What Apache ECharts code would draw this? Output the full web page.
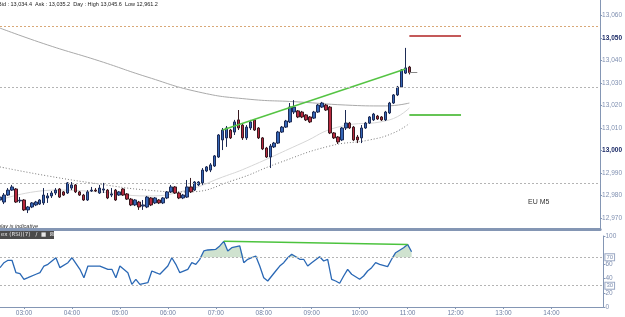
<!DOCTYPE html>
<html>
<head>
<meta charset="utf-8">
<script src="https://cdn.jsdelivr.net/npm/echarts@6/dist/echarts.min.js"></script>
<style>
  html, body { margin: 0; padding: 0; background: #fff; }
  #chart { width: 625px; height: 317px; }
</style>
</head>
<body>
<div id="chart"></div>
<script>
// 5 minute slots, 02:30 .. 15:05
var times = [];
for (var m = 150; m <= 905; m += 5) {
  var h = Math.floor(m / 60), mm = m % 60;
  times.push((h < 10 ? '0' : '') + h + ':' + (mm < 10 ? '0' : '') + mm);
}
var lastHourLabel = '14:00';

// [open, close, low, high], one per 5 min from 02:30
var candles = [
  [12978.0,12979.3,12974.4,12981.1],[12977.1,12980.2,12976.2,12981.1],[12980.2,12982.4,12979.8,12983.3],
  [12982.4,12983.8,12982.0,12984.7],[12982.9,12977.1,12976.7,12983.3],[12977.6,12977.9,12976.7,12979.3],
  [12978.0,12973.6,12973.1,12978.4],[12973.6,12974.9,12972.2,12975.3],[12974.9,12976.7,12974.4,12977.1],
  [12975.8,12977.1,12975.3,12977.6],[12976.2,12978.0,12975.8,12978.4],[12976.7,12980.2,12975.8,12983.3],
  [12978.9,12979.8,12976.7,12981.1],[12979.8,12981.1,12978.9,12982.0],[12981.1,12982.4,12980.2,12983.3],
  [12982.9,12979.3,12978.9,12983.3],[12981.6,12980.2,12979.8,12982.0],[12981.1,12985.6,12980.7,12986.0],
  [12983.3,12984.7,12982.4,12986.0],[12984.7,12981.6,12981.1,12985.1],[12981.6,12980.2,12979.8,12982.0],
  [12980.2,12978.0,12977.6,12980.7],[12978.0,12981.6,12977.6,12982.4],[12982.0,12982.4,12981.6,12983.8],
  [12982.4,12982.0,12981.6,12983.3],[12981.1,12983.3,12980.7,12984.7],[12982.4,12982.9,12981.1,12985.6],
  [12982.4,12978.9,12978.4,12982.9],[12980.2,12980.7,12979.3,12983.3],[12982.4,12978.0,12977.6,12982.9],
  [12980.2,12981.6,12979.8,12982.0],[12982.9,12980.2,12979.8,12983.3],[12980.7,12978.4,12978.0,12981.1],
  [12978.4,12975.8,12975.3,12978.9],[12975.8,12978.0,12975.3,12978.4],[12977.1,12974.9,12973.6,12977.6],
  [12975.3,12975.8,12973.6,12978.0],[12974.9,12979.3,12974.4,12979.8],[12978.9,12975.8,12975.3,12979.3],
  [12976.7,12978.9,12976.2,12979.3],[12978.0,12976.7,12976.2,12978.4],[12976.7,12978.9,12976.2,12979.3],
  [12978.9,12981.6,12978.4,12982.0],[12981.6,12983.8,12981.1,12984.7],[12983.8,12981.1,12980.7,12984.2],
  [12981.1,12978.9,12978.4,12981.6],[12978.9,12980.2,12978.4,12980.7],[12979.3,12983.8,12978.9,12986.9],
  [12983.8,12981.6,12981.1,12987.8],[12982.4,12986.0,12982.0,12986.4],[12984.7,12986.0,12984.2,12986.4],
  [12985.6,12991.3,12984.7,12992.2],[12990.9,12992.7,12990.4,12993.1],[12991.3,12993.6,12990.4,12994.4],
  [12993.1,12997.6,12992.7,12998.0],[12997.1,13006.9,12996.7,13007.3],[13004.7,13009.1,13000.2,13010.0],
  [13005.6,13010.0,13001.6,13010.9],[13009.1,13005.6,13005.1,13009.6],[13008.2,13012.7,13006.9,13013.6],
  [13013.6,13010.0,13009.1,13018.0],[13011.3,13005.6,13004.7,13012.2],[13005.6,13010.4,13004.7,13011.3],
  [13010.0,13012.7,13009.1,13013.6],[13013.6,13009.1,13008.7,13014.0],[13010.0,13005.6,13005.1,13010.4],
  [13005.6,13000.7,13000.2,13006.0],[13001.1,12997.1,12996.7,13001.6],[12997.1,13002.0,12992.2,13002.9],
  [13001.6,13003.3,13001.1,13003.8],[13003.3,13008.2,13002.9,13008.7],[13008.2,13010.4,13007.8,13010.9],
  [13010.4,13013.1,13010.0,13013.6],[13012.7,13019.3,13012.2,13021.1],[13017.1,13019.3,13016.2,13022.4],
  [13017.6,13014.9,13014.4,13018.0],[13017.1,13014.9,13014.4,13017.6],[13015.8,13013.6,13013.1,13016.2],
  [13014.9,13012.7,13012.2,13015.3],[13014.4,13017.1,13014.0,13017.6],[13017.1,13020.2,13016.7,13020.7],
  [13019.3,13021.1,13018.9,13021.6],[13020.2,13018.0,13017.6,13020.7],[13019.3,13007.8,13007.3,13019.8],
  [13007.8,13005.6,13005.1,13008.2],[13006.0,13003.8,13002.9,13006.4],[13004.7,13010.0,13004.2,13010.4],
  [13010.0,13012.2,13009.1,13018.0],[13012.2,13010.0,13009.6,13012.7],[13010.4,13004.7,13004.2,13010.9],
  [13006.0,13004.7,13003.3,13006.9],[13005.6,13010.0,13003.3,13011.3],[13010.0,13012.2,13009.6,13012.7],
  [13012.2,13014.9,13011.8,13015.3],[13013.6,13016.2,13013.1,13016.7],[13015.3,13014.0,13013.6,13015.8],
  [13014.9,13013.6,13013.1,13015.3],[13013.6,13017.1,13013.1,13017.6],[13016.7,13021.1,13016.2,13021.6],
  [13021.1,13024.7,13020.7,13025.1],[13024.7,13028.2,13024.2,13028.7],[13028.2,13035.8,13027.8,13036.2],
  [13034.4,13036.7,13034.0,13045.6],[13037.1,13034.6,13033.8,13037.6]
];

// moving averages read at a few slots: [slot index, price]
var maSlow = [[0,13054.4],[12,13046.9],[25,13039.8],[37,13032.7],[50,13026.0],[62,13022.9],[75,13021.6],[87,13020.2],[97,13019.8],[103,13021.1]];
var maDotted = [[0,12992.7],[12,12988.7],[25,12985.1],[37,12982.4],[47,12981.6],[59,12986.9],[70,12994.4],[83,13002.0],[93,13004.7],[99,13007.8],[103,13012.0]];
var maFast = [[0,12978.0],[14,12982.4],[25,12981.6],[37,12979.8],[47,12982.4],[56,12988.2],[62,12992.2],[76,13003.3],[85,13010.4],[98,13013.6],[103,13018.9]];

var pivotLevels = [13055.3, 13028.2, 12985.6];
var lastPrice = 13034.6;
var redLevel = 13050.9, greenLevel = 13015.8, levelFrom = 103, levelTo = 116;
var trendPrice = [[56,13009.1],[102,13036.2]];

// RSI read at slots: [slot index, value]
var rsiPoints = [[0,55.4],[1,62.4],[2,65.8],[3,65.8],[4,48.3],[5,46.9],[6,39.0],[7,41.3],[9,46.1],[10,48.3],
  [11,57.7],[12,60.1],[14,69.4],[15,55.4],[17,62.4],[18,69.4],[20,53.1],[21,41.3],[22,57.7],[24,57.7],
  [25,57.7],[27,53.1],[28,53.1],[29,41.3],[30,57.7],[32,48.3],[33,31.9],[34,38.9],[35,31.9],[37,34.2],
  [38,50.7],[39,48.3],[40,46.1],[42,57.7],[43,69.4],[44,60.1],[45,48.3],[47,53.1],[48,62.4],[49,60.1],
  [50,67.2],[51,78.9],[52,80.3],[54,81.3],[55,86.0],[56,92.5],[57,78.9],[58,83.5],[60,86.0],[61,62.4],
  [62,67.2],[64,71.8],[65,57.7],[66,41.3],[67,36.6],[69,50.7],[70,57.7],[71,62.4],[72,69.4],[73,74.2],
  [75,67.2],[76,67.2],[77,57.7],[78,62.4],[80,70.8],[81,64.8],[82,67.2],[83,39.0],[84,36.6],[85,33.4],
  [86,43.7],[87,53.1],[88,46.1],[90,39.0],[91,43.7],[92,50.7],[93,55.4],[94,62.4],[95,60.1],[97,56.8],
  [98,67.2],[99,76.5],[101,83.5],[102,88.2],[103,77.9]];
var rsiLast = 77.915;
var trendRsi = [[56,92.5],[102,88.2]];

var priceTicks = [12970,12980,12990,13000,13010,13020,13030,13040,13050,13060];
var rsiTicks = [0,20,40,60,100];

var axisColor = '#8496b4';
var font = 'Liberation Sans';

function named(pts) { return pts.map(function (p) { return [times[p[0]], p[1]]; }); }
function fmt(v, d) { return v.toLocaleString('en-US', {minimumFractionDigits: d || 0, maximumFractionDigits: d || 0}); }
function boxLabel(text) {
  return {show: true, position: 'end', distance: 2, formatter: text, fontSize: 6, fontFamily: font,
          color: '#7f8fb0', backgroundColor: '#fff', borderColor: '#9aa8c4', borderWidth: 1, padding: [0, 1]};
}
function hourOnly(i, name) { return name.slice(3) === '00' && name <= lastHourLabel; }

var chart = echarts.init(document.getElementById('chart'));
chart.setOption({
  animation: false,
  backgroundColor: '#fff',
  grid: [
    {left: 0, width: 603.4, top: 0, height: 229},
    {left: 0, width: 603.4, top: 236, height: 71}
  ],
  xAxis: [
    {type: 'category', gridIndex: 0, data: times, boundaryGap: false,
     axisLabel: {show: false}, axisTick: {show: false},
     axisLine: {lineStyle: {color: axisColor, width: 3}}},
    {type: 'category', gridIndex: 1, data: times, boundaryGap: false,
     axisLine: {lineStyle: {color: axisColor}},
     axisTick: {interval: hourOnly, length: 2, lineStyle: {color: axisColor}},
     axisLabel: {interval: hourOnly, margin: 3, fontSize: 6.5, fontFamily: font, color: '#6f7fa3'}}
  ],
  yAxis: [
    {type: 'value', gridIndex: 0, position: 'right', min: 12965.11, max: 13066.89,
     splitLine: {show: false},
     axisLine: {show: true, lineStyle: {color: axisColor}},
     axisTick: {show: true, length: 2, customValues: priceTicks, lineStyle: {color: axisColor}},
     axisLabel: {customValues: priceTicks, margin: 2, fontFamily: font,
       formatter: function (v) { return (v % 50 === 0 ? '{b|' : '{n|') + fmt(v) + '}'; },
       rich: {n: {fontSize: 6.5, color: '#7f8fb0', fontFamily: font},
              b: {fontSize: 6.5, color: '#1b2a66', fontWeight: 'bold', fontFamily: font}}}},
    {type: 'value', gridIndex: 1, position: 'right', min: 0, max: 100,
     splitLine: {show: false},
     axisLine: {show: true, lineStyle: {color: axisColor}},
     axisTick: {show: true, length: 2, customValues: rsiTicks, lineStyle: {color: axisColor}},
     axisLabel: {customValues: rsiTicks, margin: 2, fontSize: 6.5, fontFamily: font, color: '#7f8fb0'}}
  ],
  series: [
    {type: 'line', xAxisIndex: 0, yAxisIndex: 0, data: named(maFast), symbol: 'none', smooth: true,
     lineStyle: {color: '#d6d6d6', width: 1}, z: 1,
     markLine: {silent: true, symbol: ['none', 'none'], lineStyle: {opacity: 0},
       data: [{yAxis: maFast[maFast.length - 1][1], label: boxLabel(fmt(maFast[maFast.length - 1][1]))}]}},
    {type: 'line', xAxisIndex: 0, yAxisIndex: 0, data: named(maDotted), symbol: 'none', smooth: true,
     lineStyle: {color: '#7a7a7a', width: 1, type: [1, 2]}, z: 1,
     markLine: {silent: true, symbol: ['none', 'none'], lineStyle: {opacity: 0},
       data: [{yAxis: maDotted[maDotted.length - 1][1], label: boxLabel(fmt(maDotted[maDotted.length - 1][1]))}]}},
    {type: 'line', xAxisIndex: 0, yAxisIndex: 0, data: named(maSlow), symbol: 'none', smooth: true,
     lineStyle: {color: '#a9a9a9', width: 1}, z: 1,
     markLine: {silent: true, symbol: ['none', 'none'], lineStyle: {opacity: 0},
       data: [{yAxis: maSlow[maSlow.length - 1][1], label: boxLabel(fmt(maSlow[maSlow.length - 1][1]))}]}},
    {type: 'candlestick', xAxisIndex: 0, yAxisIndex: 0, data: candles, barWidth: 3, z: 3,
     itemStyle: {color: '#3465b6', color0: '#b8283e', borderColor: '#1d2b55', borderColor0: '#3a1a20', borderWidth: 1},
     markLine: {silent: true, symbol: ['none', 'none'], label: {show: false},
       data: [
         {yAxis: pivotLevels[0], lineStyle: {color: '#d9a877', type: [2, 2], width: 1}},
         {yAxis: pivotLevels[1], lineStyle: {color: '#b4b4b4', type: [2, 2], width: 1}},
         {yAxis: pivotLevels[2], lineStyle: {color: '#b4b4b4', type: [2, 2], width: 1}},
         {yAxis: lastPrice, lineStyle: {opacity: 0},
          label: {show: true, position: 'end', distance: 2, formatter: fmt(lastPrice, 1), fontSize: 6,
                  fontFamily: font, color: '#333', backgroundColor: '#f2b400', padding: [1, 1]}},
         [{coord: [times[103], lastPrice], lineStyle: {color: '#888', width: 1, type: 'solid'}},
          {coord: [times[105], lastPrice]}]
       ]}},
    {type: 'line', xAxisIndex: 0, yAxisIndex: 0, data: named(trendPrice), symbol: 'none',
     lineStyle: {color: '#55c444', width: 1.5}, z: 4},
    {type: 'line', xAxisIndex: 0, yAxisIndex: 0, data: named([[levelFrom, redLevel], [levelTo, redLevel]]),
     symbol: 'none', lineStyle: {color: '#b02222', width: 1.5}},
    {type: 'line', xAxisIndex: 0, yAxisIndex: 0, data: named([[levelFrom, greenLevel], [levelTo, greenLevel]]),
     symbol: 'none', lineStyle: {color: '#66c455', width: 2}},

    // RSI pane
    {type: 'line', xAxisIndex: 1, yAxisIndex: 1, symbol: 'none', z: 1,
     data: rsiPoints.map(function (p) { return [times[p[0]], Math.max(p[1], 70)]; }),
     lineStyle: {width: 0}, areaStyle: {origin: 70, color: '#cfe2cf', opacity: 1}},
    {type: 'line', xAxisIndex: 1, yAxisIndex: 1, symbol: 'none', data: named(rsiPoints), z: 3,
     lineStyle: {color: '#2a68b5', width: 1.3},
     markLine: {silent: true, symbol: ['none', 'none'],
       data: [
         {yAxis: 70, lineStyle: {color: '#b4b4b4', type: [2, 2], width: 1}, label: boxLabel('70')},
         {yAxis: 30, lineStyle: {color: '#b4b4b4', type: [2, 2], width: 1}, label: boxLabel('30')},
         {yAxis: rsiLast, lineStyle: {opacity: 0}, label: boxLabel(fmt(rsiLast, 3))}
       ]}},
    {type: 'line', xAxisIndex: 1, yAxisIndex: 1, symbol: 'none', data: named(trendRsi), z: 4,
     lineStyle: {color: '#4cc33e', width: 1.5}}
  ],
  graphic: [
    {type: 'text', x: -2, y: 1, style: {text: 'Bid : 13,034.4  Ask : 13,035.2  Day : High 13,045.6  Low 12,961.2',
      font: '5.5px "Liberation Sans"', fill: '#222'}},
    {type: 'text', x: -10, y: 223, style: {text: 'Display is indicative', font: 'italic 5.5px "Liberation Sans"', fill: '#333'}},
    {type: 'text', x: 528, y: 199, style: {text: 'EU M5', font: '7px "Liberation Sans"', fill: '#333'}},
    {type: 'rect', shape: {x: 0, y: 231, width: 54, height: 8}, style: {fill: '#4b4b4b'}},
    {type: 'text', x: 1, y: 232, style: {text: 'ex (RSI)(7)   \u2215  \u25a0  \u22a0', font: '5.5px "DejaVu Sans"', fill: '#e6e6e6'}}
  ]
});
</script>
</body>
</html>
